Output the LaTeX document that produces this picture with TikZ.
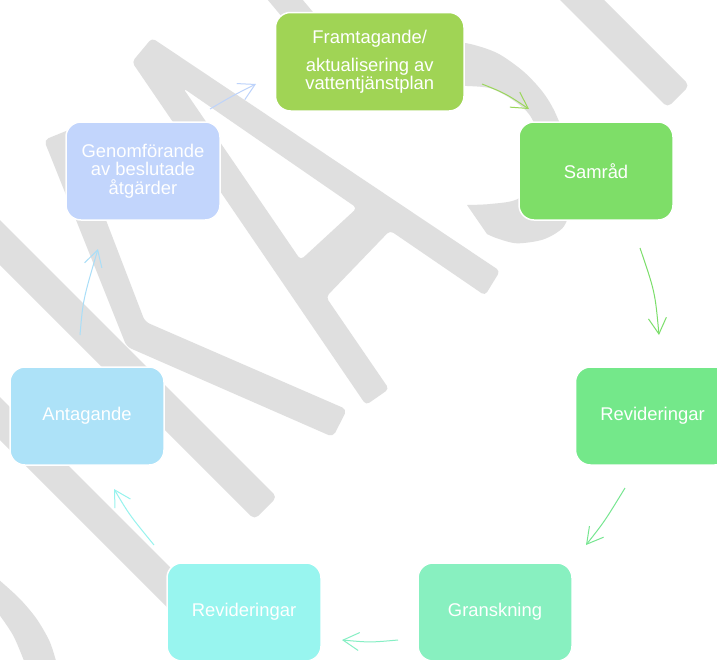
\documentclass[tikz,border=0pt]{standalone}
\usepackage{fontspec}
\setmainfont{Liberation Sans}
\usetikzlibrary{arrows.meta,calc}
\definecolor{wm}{HTML}{DFDFDF}
\definecolor{cF}{HTML}{A0D455}
\definecolor{cS}{HTML}{7EDE68}
\definecolor{cR}{HTML}{74E88A}
\definecolor{cG}{HTML}{88F0C0}
\definecolor{cL}{HTML}{98F5EF}
\definecolor{cA}{HTML}{ADE2F8}
\definecolor{cN}{HTML}{C2D5FC}
\definecolor{a1}{HTML}{9AD75A}
\definecolor{a2}{HTML}{7BDE6A}
\definecolor{a3}{HTML}{76E690}
\definecolor{a4}{HTML}{86EFC4}
\definecolor{a5}{HTML}{97F3EE}
\definecolor{a6}{HTML}{A9DEF8}
\definecolor{a7}{HTML}{BDD3FB}
\begin{document}
\begin{tikzpicture}[x=1pt,y=-1pt,
  box/.style={draw=white, line width=1.5pt, rounded corners=15pt,
    minimum width=154pt, minimum height=98pt, inner sep=0pt,
    text=white, align=center, font=\fontsize{18.4}{18.5}\selectfont},
  arr/.style={line width=1pt, -{Straight Barb[length=16pt,width=18pt]}},
  wmf/.style={fill=wm, rounded corners=5pt}]
\useasboundingbox (0,0) rectangle (717,659);
\clip (0,0) rectangle (717,659);
\fill[white] (0,0) rectangle (717,659);
% watermark
\fill[wmf] (530,-30) -- (667.5,107.5) -- (689.5,85.5) -- (574,-30) -- cycle;
\fill[wmf] (242.8,-30) -- (318,60) -- (353,60) -- (277.8,-30) -- cycle;
\fill[wm] plot[smooth] coordinates {(440,42) (467,43.3) (497,53) (523.7,71.7) (543.7,93.3) (557,116.7) (572,160) (570,205) (563.7,226.7) (543.7,239.3) (517,243.3) (497,238.3) (487,234)}
  -- plot[smooth] coordinates {(467,205) (490,204) (517,199.3) (538,180) (544,150) (535,125) (527,111.7) (510.3,98.3) (490.3,88.3) (467,86) (440,86)} -- cycle;
\fill[wm, even odd rule, rounded corners=4pt] (152,38) -- (500,271) -- (485,295.5) -- (390,230.5) -- (326,297) -- (389,389) -- (366,405) -- (132,62) -- cycle
  (183,88) -- (357,208) -- (300.6,260) -- cycle;
\fill[wmf] (44,140) -- (71,129) -- (145,321.7) -- (347,409.5) -- (333,437) -- (126.7,346.7) -- cycle;
\fill[wmf] (-30,190) -- (277,497) -- (254.5,519.5) -- (-30,235) -- cycle;
\fill[wmf] (-30,367) -- (300,697) -- (300,740) -- (-30,410) -- cycle;
\fill[wm] plot[smooth] coordinates {(-10,572) (0,580.7) (20,599) (36.7,619) (50,642.3) (58,668)}
  -- plot[smooth] coordinates {(26,668) (23.3,659) (13.3,635.7) (0,615.7) (-10,604)} -- cycle;
% boxes
\node[box, fill=cF, minimum width=188.5pt, minimum height=98.5pt] (f) at (369.75,61.75) {Framtagande/\\[9pt]aktualisering av\\vattentjänstplan};
\node[box, fill=cS] (s) at (596,171) {Samråd};
\node[box, fill=cR] (r1) at (652.5,416) {Revideringar};
\node[box, fill=cG] (g) at (495,612) {Granskning};
\node[box, fill=cL] (r2) at (244,612) {Revideringar};
\node[box, fill=cA] (a) at (87,416) {Antagande};
\node[box, fill=cN] (n) at (143,171) {Genomförande\\av beslutade\\åtgärder};
% arrows
\coordinate (p1) at (482,84);  \coordinate (q1) at (529,109);
\coordinate (p2) at (640,248); \coordinate (q2) at (659,335);
\coordinate (p3) at (625,488); \coordinate (q3) at (586,545);
\coordinate (p4) at (398,640); \coordinate (q4) at (342,640);
\coordinate (p5) at (154,545); \coordinate (q5) at (114,489);
\coordinate (p6) at (80,335);  \coordinate (q6) at (98,249);
\coordinate (p7) at (210,109); \coordinate (q7) at (256,84);
\draw[arr, draw=a1] (p1) .. controls (505.2,93.3) .. (q1);
\draw[arr, draw=a2] (p2) .. controls (655,292) .. (q2);
\draw[arr, draw=a3] (p3) .. controls (604.5,521.5) .. (q3);
\draw[arr, draw=a4] (p4) .. controls (370,642.5) .. (q4);
\draw[arr, draw=a5] (p5) .. controls (129.4,514.9) .. (q5);
\draw[arr, draw=a6] (p6) .. controls (83,300) .. (q6);
\draw[arr, draw=a7] (p7) .. controls (233,95.5) .. (q7);
\end{tikzpicture}
\end{document}
